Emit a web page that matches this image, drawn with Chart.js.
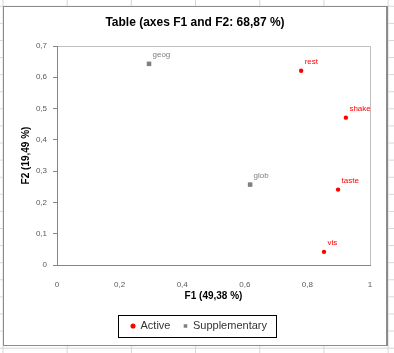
<!DOCTYPE html>
<html>
<head>
<meta charset="utf-8">
<script src="https://cdn.jsdelivr.net/npm/chart.js@4"></script>
<style>
  html, body { margin:0; padding:0; }
  body {
    width:394px; height:353px; overflow:hidden; position:relative;
    background-color:#fff;
    background-image: linear-gradient(to right, #d6d6d6 1px, transparent 1px), linear-gradient(to bottom, #d6d6d6 1px, transparent 1px);
    background-size: 64.2px 100%, 100% 17.1px;
    background-position: 2.5px 0, 0 5.8px;
  }
  #frame { position:absolute; left:3px; top:6px; width:385px; height:340px; box-sizing:border-box;
    border:1px solid #8c8c8c; border-right:2px solid #8c8c8c; background:#fff; }
  #c { position:absolute; left:0; top:0; }
</style>
</head>
<body>
<div id="frame"></div>
<canvas id="c" width="394" height="353"></canvas>
<script>
// ---- data ----
const activeLabels = ['rest', 'shake', 'taste', 'vis'];
const activeF1 = [0.780, 0.923, 0.898, 0.853];
const activeF2 = [0.621, 0.471, 0.241, 0.042];
const suppLabels = ['geog', 'glob'];
const suppF1 = [0.294, 0.617];
const suppF2 = [0.643, 0.257];
const xTickValues = [0, 0.2, 0.4, 0.6, 0.8, 1];
const yTickValues = [0, 0.1, 0.2, 0.3, 0.4, 0.5, 0.6, 0.7];
const titleText = 'Table (axes F1 and F2: 68,87 %)';
const xTitle = 'F1 (49,38 %)';
const yTitle = 'F2 (19,49 %)';

const FONT = '"Liberation Sans", Arial, sans-serif';
const fmt = v => (Math.round(v * 10) / 10).toString().replace('.', ',');

const toPoints = (xs, ys) => xs.map((x, i) => ({x: x, y: ys[i]}));

const pointLabels = {
  id: 'pointLabels',
  afterDatasetsDraw(chart) {
    const ctx = chart.ctx;
    ctx.save();
    ctx.font = '8px ' + FONT;
    ctx.textBaseline = 'middle';
    ctx.textAlign = 'left';
    chart.data.datasets.forEach((ds, di) => {
      const meta = chart.getDatasetMeta(di);
      ctx.fillStyle = ds.labelColor;
      meta.data.forEach((el, i) => {
        ctx.fillText(ds.pointNames[i], el.x + 3.5, el.y - 9);
      });
    });
    ctx.restore();
  }
};

const frameBits = {
  id: 'frameBits',
  afterLayout(chart) {
    if (chart.legend) { chart.legend.left += 4; chart.legend.right += 4; }
  },
  beforeDraw(chart) {
    const a = chart.chartArea, ctx = chart.ctx;
    ctx.save();
    ctx.strokeStyle = '#bfbfbf';
    ctx.lineWidth = 1;
    ctx.beginPath();
    ctx.moveTo(a.left, Math.round(a.top) + 0.5);
    ctx.lineTo(Math.round(a.right) + 0.5, Math.round(a.top) + 0.5);
    ctx.lineTo(Math.round(a.right) + 0.5, a.bottom);
    ctx.stroke();
    ctx.restore();
  },
  afterDraw(chart) {
    const lg = chart.legend;
    if (!lg || !lg.legendHitBoxes || !lg.legendHitBoxes.length) return;
    const hb = lg.legendHitBoxes;
    const first = hb[0], last = hb[hb.length - 1];
    const cy = first.top + first.height / 2;
    const x0 = Math.round(first.left - 13) + 0.5;
    const x1 = Math.round(last.left + last.width + 9) + 0.5;
    const y0 = Math.round(cy - 11) + 0.5;
    const y1 = Math.round(cy + 11) + 0.5;
    const ctx = chart.ctx;
    ctx.save();
    ctx.strokeStyle = '#000';
    ctx.lineWidth = 1;
    ctx.strokeRect(x0, y0, x1 - x0, y1 - y0);
    ctx.restore();
  }
};

new Chart(document.getElementById('c'), {
  type: 'scatter',
  data: {
    datasets: [
      {
        label: 'Active',
        data: toPoints(activeF1, activeF2),
        pointNames: activeLabels,
        labelColor: '#ff0000',
        backgroundColor: '#ff0000',
        borderColor: '#ff0000',
        pointStyle: 'circle',
        pointRadius: 2.2,
        borderWidth: 0
      },
      {
        label: 'Supplementary',
        data: toPoints(suppF1, suppF2),
        pointNames: suppLabels,
        labelColor: '#808080',
        backgroundColor: '#808080',
        borderColor: '#808080',
        pointStyle: 'rect',
        pointRadius: 3.2,
        borderWidth: 0
      }
    ]
  },
  options: {
    responsive: false,
    animation: false,
    devicePixelRatio: 1,
    layout: { padding: { left: 20, right: 24, top: 0, bottom: 11.5 } },
    plugins: {
      tooltip: { enabled: false },
      title: {
        display: true,
        text: titleText,
        color: '#000',
        font: { family: FONT, size: 12, weight: 'bold' },
        padding: { top: 15.3, bottom: 16.3 }
      },
      legend: {
        position: 'bottom',
        labels: {
          usePointStyle: true,
          boxWidth: 4,
          boxHeight: 3.6,
          padding: 13,
          color: '#333',
          font: { family: FONT, size: 11 }
        }
      }
    },
    scales: {
      x: {
        type: 'linear',
        min: 0, max: 1,
        afterBuildTicks: s => { s.ticks = xTickValues.map(v => ({value: v})); },
        afterFit: s => { s.height = 42.5; },
        grid: { display: false },
        border: { color: '#868686', width: 1 },
        ticks: { color: '#595959', font: { family: FONT, size: 8 }, padding: 7.2, callback: v => fmt(v), maxRotation: 0 },
        title: { display: true, text: xTitle, color: '#000', font: { family: FONT, size: 10, weight: 'bold' }, padding: { top: 0, bottom: 5.5 } }
      },
      y: {
        type: 'linear',
        min: 0, max: 0.7,
        afterBuildTicks: s => { s.ticks = yTickValues.map(v => ({value: v})); },
        afterFit: s => { s.width = 37; },
        grid: { drawOnChartArea: false, drawTicks: true, tickLength: 4, color: '#868686' },
        border: { color: '#868686', width: 1 },
        ticks: { color: '#595959', font: { family: FONT, size: 8 }, padding: 6, callback: v => fmt(v) },
        title: { display: true, text: yTitle, color: '#000', font: { family: FONT, size: 10, weight: 'bold' }, padding: { top: 0, bottom: 0 } }
      }
    }
  },
  plugins: [pointLabels, frameBits]
});
</script>
</body>
</html>
